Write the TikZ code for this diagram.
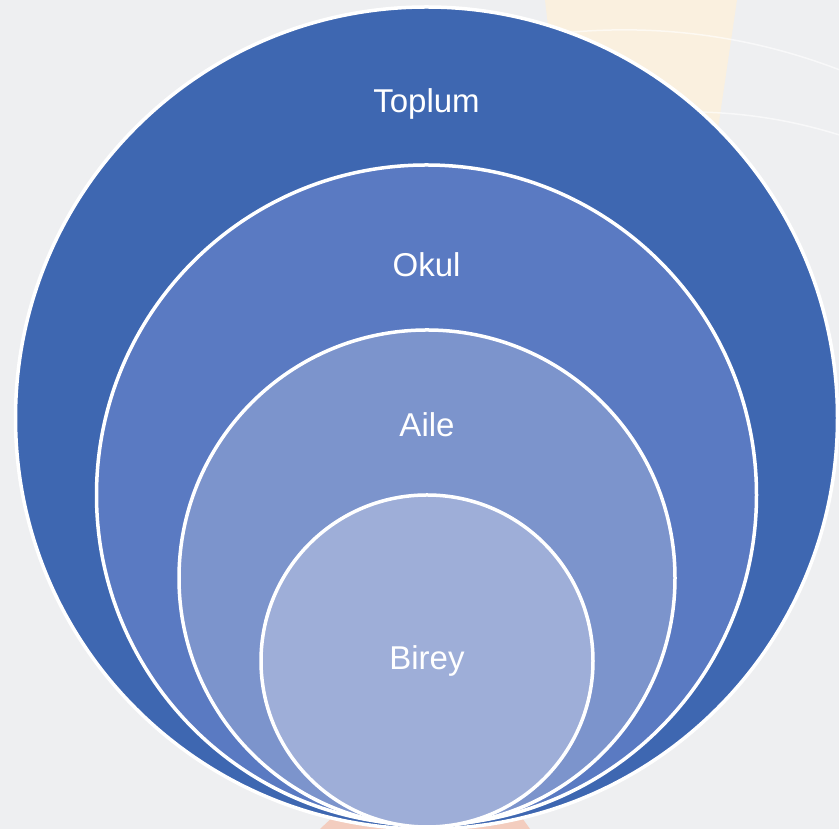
\documentclass[tikz,border=0pt]{standalone}
\usepackage{fontspec}
\setmainfont{Liberation Sans}
\definecolor{toplumblue}{HTML}{3E67B1}
\definecolor{okulblue}{HTML}{5A7AC2}
\definecolor{aileblue}{HTML}{7C94CC}
\definecolor{bireyblue}{HTML}{9EAED8}
\definecolor{bggray}{HTML}{EEEFF1}
\definecolor{bgbeige}{HTML}{FAF0DF}
\definecolor{bgpeach}{HTML}{F3CDBF}
\tikzset{
  ring/.style={circle,draw=white,line width=3.5pt,inner sep=0pt},
  lbl/.style={text=white,font=\fontsize{33}{38}\selectfont}
}
\begin{document}
\begin{tikzpicture}[x=1pt,y=1pt]
\useasboundingbox (0,0) rectangle (839,829);
\fill[bggray] (0,0) rectangle (839,829);
\fill[bgbeige] (545,829) -- (737,829) -- (712,660) -- (560,700) -- cycle;
\fill[bgpeach] (320,0) -- (335,14) -- (520,14) -- (530,0) -- cycle;
\draw[white,line width=1.5pt,opacity=0.6] (520,790) arc[start angle=100,end angle=40,radius=600];
\draw[white,line width=1.5pt,opacity=0.6] (560,700) arc[start angle=105,end angle=55,radius=500];
\node[ring,fill=toplumblue,minimum size=822] (toplum) at (426.5,411) {};
\node[ring,fill=okulblue,minimum size=660] (okul) at (426.5,334) {};
\node[ring,fill=aileblue,minimum size=496] (aile) at (427,251) {};
\node[ring,fill=bireyblue,minimum size=332] (birey) at (427,168) {};
\node[lbl] (toplumtxt) at (426.5,725) {Toplum};
\node[lbl] (okultxt) at (426.5,564) {Okul};
\node[lbl] (ailetxt) at (427,404) {Aile};
\node[lbl] (bireytxt) at (427,168) {Birey};
\end{tikzpicture}
\end{document}
